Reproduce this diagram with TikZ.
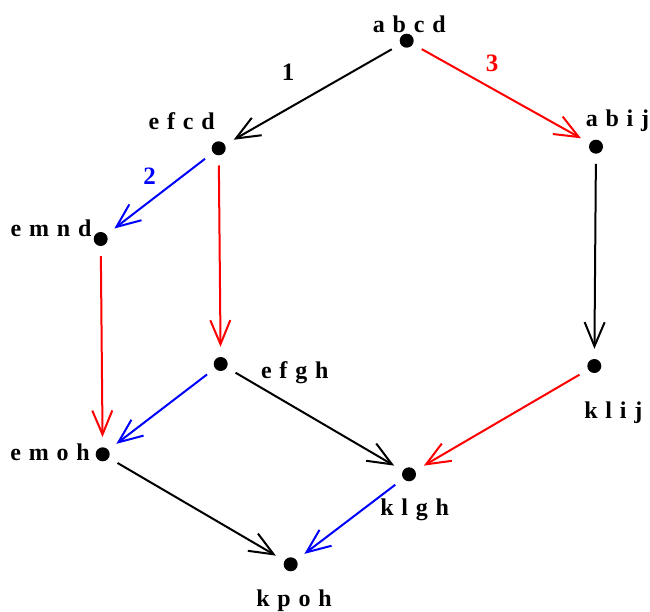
\documentclass[tikz,border=0pt]{standalone}
\usepackage{fontspec}
\setmainfont{Liberation Serif}
\newfontfamily\lblfont[WordSpace=1.3]{Liberation Serif}
\usetikzlibrary{arrows.meta}
\begin{document}
\begin{tikzpicture}[x=1pt,y=-1pt,
  dot/.style={circle,fill=black,inner sep=0pt,minimum size=14pt},
  lbl/.style={anchor=base,inner sep=0pt,font=\lblfont\bfseries\fontsize{24}{24}\selectfont},
  num/.style={anchor=base,inner sep=0pt,font=\bfseries\fontsize{25}{25}\selectfont},
  edge/.style={line width=2pt,shorten <=10pt,shorten >=10pt,
    -{Straight Barb[length=24pt,width=20pt,line width=2pt]}},
  blk/.style={edge,draw=black},
  rd/.style={edge,draw=red},
  bl/.style={edge,draw=blue}]
\useasboundingbox (0,0) rectangle (650,612);

% vertices
\node[dot] (abcd) at (406.7,40.7) {};
\node[dot] (efcd) at (218.7,148.3) {};
\node[dot] (abij) at (596,146.7) {};
\node[dot] (emnd) at (100.7,239) {};
\node[dot] (efgh) at (220.7,364) {};
\node[dot] (klij) at (594.3,366) {};
\node[dot] (emoh) at (102.7,454.3) {};
\node[dot] (klgh) at (409,474.3) {};
\node[dot] (kpoh) at (290.7,564.3) {};

% vertex labels
\node[lbl] (labcd) at (409.3,32.3) {a b c d};
\node[lbl] (lefcd) at (181.7,129.3) {e f c d};
\node[lbl] (labij) at (617.5,126.7) {a b i j};
\node[lbl] (lemnd) at (51,236.7) {e m n d};
\node[lbl] (lefgh) at (294.7,378.3) {e f g h};
\node[lbl] (lklij) at (613.3,418.3) {k l i j};
\node[lbl] (lemoh) at (50,460) {e m o h};
\node[lbl] (lklgh) at (414.7,515) {k l g h};
\node[lbl] (lkpoh) at (294,606) {k p o h};

% edge numbers
\node[num] (n1) at (288,81) {1};
\node[num,text=red] (n3) at (492,71.7) {3};
\node[num,text=blue] (n2) at (149.5,185) {2};

% edges
\draw[blk] (abcd) -- (efcd);
\draw[rd]  (abcd) -- (abij);
\draw[bl]  (efcd) -- (emnd);
\draw[rd]  (efcd) -- (efgh);
\draw[blk] (abij) -- (klij);
\draw[rd]  (emnd) -- (emoh);
\draw[bl]  (efgh) -- (emoh);
\draw[blk] (efgh) -- (klgh);
\draw[rd]  (klij) -- (klgh);
\draw[blk] (emoh) -- (kpoh);
\draw[bl]  (klgh) -- (kpoh);
\end{tikzpicture}
\end{document}
